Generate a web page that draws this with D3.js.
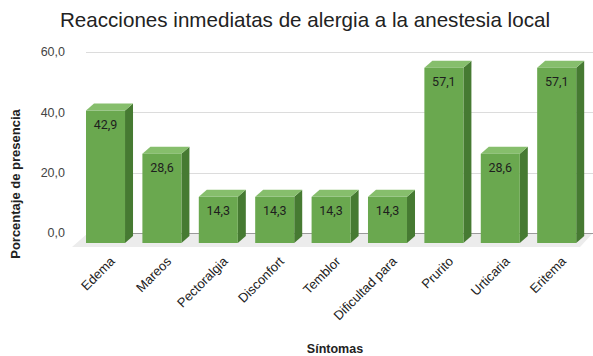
<!DOCTYPE html>
<html><head><meta charset="utf-8">
<script src="https://cdn.jsdelivr.net/npm/d3@7"></script>
<style>body{margin:0;background:#fff}svg{display:block}</style>
</head><body>
<script>
const categories = ["Edema","Mareos","Pectoralgia","Disconfort","Temblor","Dificultad para","Prurito","Urticaria","Eritema"];
const values = [42.9,28.6,14.3,14.3,14.3,14.3,57.1,28.6,57.1];
const yTicks = [0,20,40,60];
const title = "Reacciones inmediatas de alergia a la anestesia local";
const yTitle = "Porcentaje de presencia";
const xTitle = "Síntomas";

const W=593,H=356;
const svg=d3.select("body").append("svg").attr("width",W).attr("height",H);
const y=d3.scaleLinear().domain([0,60]).range([233,52]);
const x=d3.scaleBand().domain(categories).range([86,576.2]).paddingInner(0.308).paddingOuter(0);
const DX=8, DY=7, FRONT_BOTTOM=243;
const fmt=v=>d3.format(".1f")(v).replace(".",",");

// floor
svg.append("path").attr("d","M88,233 L593,233 L580,247 L72,247 Z").attr("fill","#ececec");
// gridlines
svg.selectAll("line.g").data(yTicks).join("line")
  .attr("x1",86).attr("x2",593).attr("y1",d=>Math.round(y(d))+0.5).attr("y2",d=>Math.round(y(d))+0.5)
  .attr("stroke",d=>d===0?"#9a9a9a":"#dcdcdc").attr("stroke-width",1);
// y tick labels
svg.selectAll("text.yt").data(yTicks).join("text")
  .attr("x",65).attr("y",d=>y(d)).attr("dy","0.35em").attr("text-anchor","end")
  .attr("font-family","Liberation Sans, Arial, sans-serif").attr("font-size",12.5).attr("fill","#444")
  .text(d=>fmt(d));

// bars
const g=svg.selectAll("g.bar").data(categories.map((c,i)=>({c,v:values[i]}))).join("g");
g.each(function(d){
  const s=d3.select(this);
  const xl=x(d.c), xr=xl+x.bandwidth();
  const top=y(d.v)+DY;
  s.append("path").attr("d",`M${xr},${top} L${xr+DX},${top-DY} L${xr+DX},${FRONT_BOTTOM-DY} L${xr},${FRONT_BOTTOM} Z`).attr("fill","#467a32");
  s.append("path").attr("d",`M${xl},${top} L${xl+DX},${top-DY} L${xr+DX},${top-DY} L${xr},${top} Z`).attr("fill","#86be6c");
  s.append("rect").attr("x",xl).attr("y",top).attr("width",x.bandwidth()).attr("height",FRONT_BOTTOM-top).attr("fill","#6aa84f");
  s.append("text").attr("x",(xl+xr)/2).attr("y",top+18).attr("text-anchor","middle")
   .attr("font-family","Roboto, sans-serif").attr("font-size",12.5).attr("fill","#1e1e1e").text(fmt(d.v));
});

// x labels
svg.selectAll("text.xl").data(categories).join("text")
  .attr("transform",d=>`translate(${x(d)+x.bandwidth()/2+7},${259}) rotate(-45)`)
  .attr("text-anchor","end").attr("dy","0.35em")
  .attr("font-family","Liberation Sans, Arial, sans-serif").attr("font-size",13).attr("fill","#222")
  .text(d=>d);

// titles
svg.append("text").attr("x",60).attr("y",27).attr("font-family","Liberation Sans, Arial, sans-serif")
  .attr("font-size",20.6).attr("fill","#222").text(title);
svg.append("text").attr("transform","translate(20,184) rotate(-90)").attr("text-anchor","middle")
  .attr("font-family","Liberation Sans, Arial, sans-serif").attr("font-size",13).attr("font-weight","bold").attr("fill","#222").text(yTitle);
svg.append("text").attr("x",335).attr("y",353).attr("text-anchor","middle")
  .attr("font-family","Liberation Sans, Arial, sans-serif").attr("font-size",12.5).attr("font-weight","bold").attr("fill","#222").text(xTitle);
</script>
</body></html>
